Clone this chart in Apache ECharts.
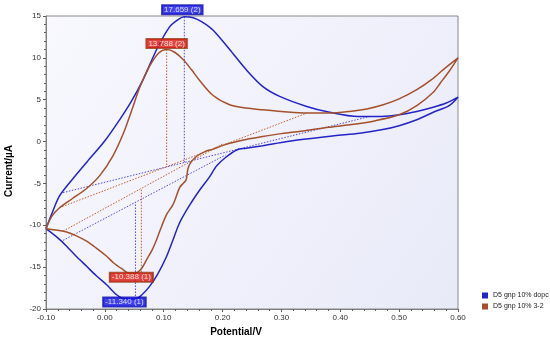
<!DOCTYPE html>
<html><head><meta charset="utf-8">
<script src="https://cdn.jsdelivr.net/npm/echarts@6/dist/echarts.min.js"></script>
<style>html,body{margin:0;padding:0;background:#fff}#c{width:550px;height:342px}</style>
</head><body><div id="c"></div>
<script>
// ---- data ----
const seriesNames = ['D5 gnp 10% dopc', 'D5 gnp 10% 3-2'];

// blue: forward (anodic) scan
const blueFwdE = [-0.100,-0.090,-0.077,-0.055,-0.030,0.000,0.025,0.045,0.065,0.088,0.110,0.125,0.135,0.150,0.165,0.184,0.212,0.240,0.268,0.297,0.343,0.382,0.430,0.470,0.500,0.530,0.558,0.580,0.600];
const blueFwdI = [-10.4,-8.6,-6.5,-4.5,-2.4,0.1,2.6,4.8,7.4,11.0,13.7,14.6,14.9,14.8,14.3,13.3,11.0,8.6,6.6,5.4,4.2,3.5,3.0,3.0,3.2,3.6,4.1,4.6,5.3];
// blue: reverse (cathodic) scan
const blueRevE = [0.585,0.558,0.530,0.500,0.470,0.433,0.390,0.354,0.310,0.268,0.240,0.224,0.205,0.190,0.177,0.160,0.144,0.127,0.116,0.105,0.090,0.076,0.063,0.052,0.035,0.020,0.003,-0.015,-0.031,-0.050,-0.065,-0.080,-0.100];
const blueRevI = [4.3,3.5,2.6,1.9,1.4,1.0,0.7,0.4,0.0,-0.5,-0.8,-1.0,-1.9,-2.9,-4.3,-5.9,-7.6,-9.7,-11.7,-13.7,-15.8,-17.3,-18.3,-18.8,-18.8,-18.3,-17.1,-16.0,-14.9,-13.6,-12.5,-11.5,-10.4];

// brown: forward scan
const brownFwdE = [-0.100,-0.090,-0.077,-0.055,-0.031,-0.009,0.013,0.031,0.045,0.060,0.076,0.092,0.105,0.118,0.133,0.147,0.161,0.184,0.212,0.240,0.268,0.300,0.343,0.380,0.416,0.445,0.473,0.500,0.530,0.555,0.575,0.600];
const brownFwdI = [-10.4,-8.9,-7.9,-6.8,-5.6,-4.1,-1.8,0.9,3.6,6.6,9.0,10.6,11.0,10.7,9.8,8.6,7.3,5.5,4.4,4.0,3.8,3.6,3.4,3.4,3.6,3.9,4.4,5.1,6.2,7.4,8.6,10.0];
// brown: reverse scan
const brownRevE = [0.585,0.570,0.558,0.530,0.500,0.460,0.416,0.380,0.340,0.300,0.268,0.240,0.212,0.195,0.184,0.170,0.156,0.145,0.141,0.138,0.133,0.127,0.116,0.105,0.096,0.088,0.080,0.071,0.062,0.052,0.040,0.031,0.015,0.003,-0.015,-0.031,-0.050,-0.065,-0.080,-0.100];
const brownRevI = [8.4,7.0,5.9,4.3,3.2,2.5,2.0,1.7,1.3,0.95,0.6,0.25,-0.2,-0.6,-0.9,-1.2,-1.75,-2.6,-3.3,-4.6,-5.0,-5.5,-7.5,-8.7,-10.2,-11.7,-13.0,-14.1,-15.2,-15.7,-15.7,-15.3,-14.5,-13.7,-12.7,-11.9,-11.2,-10.8,-10.6,-10.4];

// peak baselines (dotted)
const blueOxBaseE = [-0.071, 0.450];  const blueOxBaseI = [-6.1, 3.0];
const blueRedBaseE = [-0.071, 0.205]; const blueRedBaseI = [-11.8, -1.6];
const brownOxBaseE = [-0.077, 0.343]; const brownOxBaseI = [-7.9, 3.4];
const brownRedBaseE = [-0.071, 0.200]; const brownRedBaseI = [-10.7, -0.3];

// peaks: [oxidation, reduction]
const bluePeakE = [0.135, 0.052];  const bluePeakI = [14.9, -18.8];
const brownPeakE = [0.105, 0.062]; const brownPeakI = [11.0, -15.6];
const bluePeakLabels = ['17.659 (2)', '-11.340 (1)'];
const brownPeakLabels = ['13.788 (2)', '-10.388 (1)'];

// axis ticks
const xMin = -0.1, xMax = 0.6, xStep = 0.1;
const yMin = -20, yMax = 15, yStep = 5;

// ---- build ----
const pairs = (E, I) => E.map((e, k) => [e, I[k]]);
const baseAt = (E, I, e) => I[0] + (I[1] - I[0]) * (e - E[0]) / (E[1] - E[0]);

const BLUE = '#2323c8', BROWN = '#a3502c';
const BLUE_DOT = '#5a48d8', BROWN_DOT = '#c0602c';
const FONT = 'Liberation Sans, Arial, sans-serif';

function dotted(name, data, color) {
  return { name, type: 'line', data, symbol: 'none', silent: true, z: 1,
    lineStyle: { color, width: 1, type: [1.5, 1.5] } };
}

const blueLoop = pairs(blueFwdE, blueFwdI).concat(pairs(blueRevE, blueRevI));
const brownLoop = pairs(brownFwdE, brownFwdI).concat(pairs(brownRevE, brownRevI));

const vBlueOx = [[bluePeakE[0], bluePeakI[0]], [bluePeakE[0], baseAt(blueOxBaseE, blueOxBaseI, bluePeakE[0])]];
const vBlueRed = [[bluePeakE[1], bluePeakI[1]], [bluePeakE[1], baseAt(blueRedBaseE, blueRedBaseI, bluePeakE[1])]];
const vBrownOx = [[brownPeakE[0], brownPeakI[0]], [brownPeakE[0], baseAt(brownOxBaseE, brownOxBaseI, brownPeakE[0])]];
const vBrownRed = [[brownPeakE[1], brownPeakI[1]], [brownPeakE[1], baseAt(brownRedBaseE, brownRedBaseI, brownPeakE[1])]];

const labelBase = { show: true, color: '#fff', fontSize: 8, fontFamily: FONT,
  padding: [1, 2, 0, 2], borderWidth: 1, position: 'inside' };
const blueLab = Object.assign({}, labelBase, { backgroundColor: '#1414e6', borderColor: '#0a0aa0' });
const redLab = Object.assign({}, labelBase, { backgroundColor: '#dc1a10', borderColor: '#8c3a12' });

const labelData = [
  { value: [bluePeakE[0], bluePeakI[0]], name: bluePeakLabels[0], label: Object.assign({}, blueLab, { offset: [-2, -7] }) },
  { value: [bluePeakE[1], bluePeakI[1]], name: bluePeakLabels[1], label: Object.assign({}, blueLab, { offset: [-11, 3] }) },
  { value: [brownPeakE[0], brownPeakI[0]], name: brownPeakLabels[0], label: Object.assign({}, redLab, { offset: [0, -6] }) },
  { value: [brownPeakE[1], brownPeakI[1]], name: brownPeakLabels[1], label: Object.assign({}, redLab, { offset: [-10, 5] }) }
];

const chart = echarts.init(document.getElementById('c'), null, { renderer: 'canvas' });
chart.setOption({
  animation: false,
  grid: { left: 46, right: 92, top: 16, bottom: 33, show: true, borderColor: '#8a8a8a', borderWidth: 1,
    backgroundColor: { type: 'linear', x: 0, y: 0, x2: 1, y2: 1,
      colorStops: [{ offset: 0, color: '#f8f8fe' }, { offset: 1, color: '#e8eaf8' }] } },
  xAxis: { type: 'value', min: xMin, max: xMax, interval: xStep,
    axisLine: { show: true, onZero: false, lineStyle: { color: '#808080' } },
    axisTick: { show: true, length: 3, lineStyle: { color: '#606060' } },
    minorTick: { show: true, splitNumber: 5, length: 2, lineStyle: { color: '#606060' } },
    splitLine: { show: false },
    axisLabel: { fontSize: 8, color: '#333', fontFamily: FONT, margin: 5, formatter: v => v.toFixed(2) } },
  yAxis: { type: 'value', min: yMin, max: yMax, interval: yStep,
    axisLine: { show: true, onZero: false, lineStyle: { color: '#808080' } },
    axisTick: { show: true, length: 3, lineStyle: { color: '#606060' } },
    minorTick: { show: true, splitNumber: 5, length: 2, lineStyle: { color: '#606060' } },
    splitLine: { show: false },
    axisLabel: { fontSize: 8, color: '#333', fontFamily: FONT, margin: 5 } },
  legend: { data: seriesNames, orient: 'vertical', left: 477, top: 287, itemWidth: 6, itemHeight: 6,
    itemGap: 4, icon: 'rect', textStyle: { fontSize: 7, color: '#222', fontFamily: FONT }, selectedMode: false },
  graphic: [
    { type: 'text', x: 9, y: 171, rotation: Math.PI / 2,
      style: { text: 'Current/µA', font: 'bold 10px ' + FONT, fill: '#000', textAlign: 'center', textVerticalAlign: 'middle' } },
    { type: 'text', x: 236, y: 332,
      style: { text: 'Potential/V', font: 'bold 10px ' + FONT, fill: '#000', textAlign: 'center', textVerticalAlign: 'middle' } }
  ],
  series: [
    dotted('bOxBase', pairs(blueOxBaseE, blueOxBaseI), BLUE_DOT),
    dotted('bRedBase', pairs(blueRedBaseE, blueRedBaseI), BLUE_DOT),
    dotted('rOxBase', pairs(brownOxBaseE, brownOxBaseI), BROWN_DOT),
    dotted('rRedBase', pairs(brownRedBaseE, brownRedBaseI), BROWN_DOT),
    dotted('bOxV', vBlueOx, BLUE_DOT),
    dotted('bRedV', vBlueRed, BLUE_DOT),
    dotted('rOxV', vBrownOx, BROWN_DOT),
    dotted('rRedV', vBrownRed, BROWN_DOT),
    { name: seriesNames[0], type: 'line', data: blueLoop, symbol: 'none', smooth: 0.3, z: 3,
      itemStyle: { color: BLUE }, lineStyle: { color: BLUE, width: 1.5 } },
    { name: seriesNames[1], type: 'line', data: brownLoop, symbol: 'none', smooth: 0.3, z: 3,
      itemStyle: { color: BROWN }, lineStyle: { color: BROWN, width: 1.5 } },
    { name: 'peakLabels', type: 'scatter', data: labelData, symbolSize: 0, z: 5, silent: true,
      label: { show: true, formatter: p => p.name } }
  ]
});
</script></body></html>
